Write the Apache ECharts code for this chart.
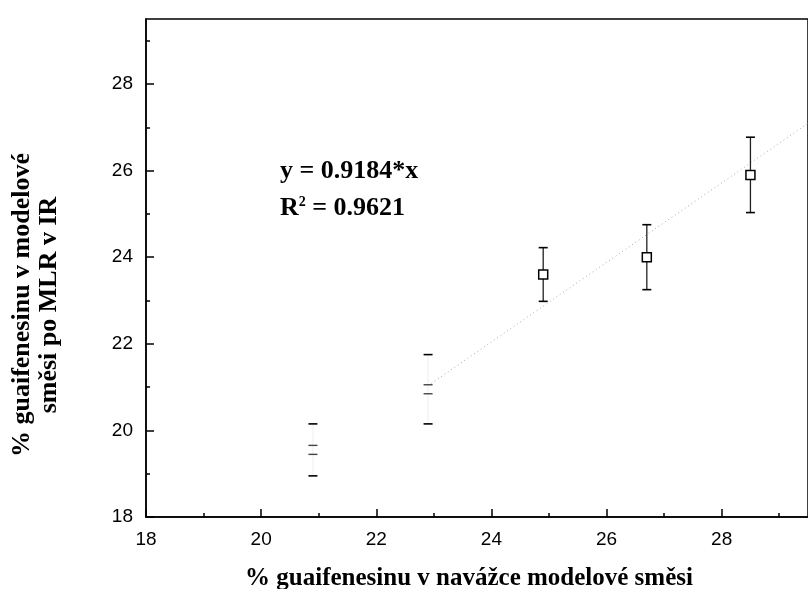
<!DOCTYPE html>
<html><head><meta charset="utf-8">
<script src="https://cdn.jsdelivr.net/npm/echarts@6/dist/echarts.min.js"></script>
<style>html,body{margin:0;padding:0;background:#fff}#c{width:808px;height:589px}</style>
</head><body><div id="c"></div>
<script>
const xVals = [20.9, 22.9, 24.9, 26.7, 28.5];
const yVals = [19.55, 20.95, 23.6, 24.0, 25.9];
const errVals = [0.6, 0.8, 0.62, 0.75, 0.87];
const xMajor = [18, 20, 22, 24, 26, 28];
const xMinor = [19, 21, 23, 25, 27, 29];
const yMajor = [18, 20, 22, 24, 26, 28];
const yMinor = [19, 21, 23, 25, 27, 29];
const slope = 0.9184;
const fitX = [22.9, 29.5];
const eqText = 'y = 0.9184*x';
const r2Text = '0.9621';
const xTitle = '% guaifenesinu v navážce modelové směsi';
const yTitle1 = '% guaifenesinu v modelové';
const yTitle2 = 'směsi po MLR v IR';

const chart = echarts.init(document.getElementById('c'), null, {renderer: 'canvas'});
const serif = '"Liberation Serif","Times New Roman",serif';
const sans = '"Liberation Sans",Arial,sans-serif';

function axisPair(kind, major, minor) {
  const base = {
    type: 'value', min: 18, max: 29.5, scale: true,
    splitLine: {show: false}
  };
  const a = Object.assign({}, base, {
    axisLine: {show: true, lineStyle: {color: '#000', width: 1.5}},
    axisTick: {show: true, inside: true, length: 8, customValues: major, lineStyle: {color: '#000', width: 1.5}},
    axisLabel: {show: true, customValues: major, color: '#000', fontFamily: sans, fontSize: 19, margin: kind === 'x' ? 13 : 13}
  });
  const b = Object.assign({}, base, {
    axisLine: {show: false},
    axisTick: {show: true, inside: true, length: 4, customValues: minor, lineStyle: {color: '#000', width: 1.5}},
    axisLabel: {show: false}
  });
  if (kind === 'x') { a.position = 'bottom'; b.position = 'bottom'; }
  else { a.position = 'left'; b.position = 'left'; }
  return [a, b];
}

const errData = xVals.map((x, i) => [x, yVals[i], errVals[i], i]);

chart.setOption({
  animation: false,
  grid: {left: 146, right: -8, top: 19, bottom: 72, show: true, borderColor: '#000', borderWidth: 1.5, backgroundColor: 'transparent'},
  xAxis: axisPair('x', xMajor, xMinor),
  yAxis: axisPair('y', yMajor, yMinor),
  series: [
    {
      type: 'line', xAxisIndex: 0, yAxisIndex: 0,
      data: fitX.map(x => [x, slope * x]),
      symbol: 'none', clip: true,
      lineStyle: {color: '#aaaaaa', width: 1, type: [1, 3]}
    },
    {
      type: 'custom', xAxisIndex: 0, yAxisIndex: 0,
      data: errData,
      renderItem: function (params, api) {
        const x = api.value(0), y = api.value(1), e = api.value(2), idx = api.value(3);
        const pc = api.coord([x, y]);
        const pt = api.coord([x, y + e]);
        const pb = api.coord([x, y - e]);
        const faded = idx < 2;
        const cw = 4.5, bs = 4.5;
        const stemColor = faded ? '#f2f2f2' : '#222';
        const children = [
          {type: 'line', shape: {x1: pc[0], y1: pt[1], x2: pc[0], y2: pb[1]}, style: {stroke: stemColor, lineWidth: 1.3}},
          {type: 'line', shape: {x1: pc[0] - cw, y1: pt[1], x2: pc[0] + cw, y2: pt[1]}, style: {stroke: '#000', lineWidth: 1.6}},
          {type: 'line', shape: {x1: pc[0] - cw, y1: pb[1], x2: pc[0] + cw, y2: pb[1]}, style: {stroke: '#000', lineWidth: 1.6}}
        ];
        if (faded) {
          children.push({type: 'line', shape: {x1: pc[0] - bs, y1: pc[1] - bs, x2: pc[0] + bs, y2: pc[1] - bs}, style: {stroke: '#444', lineWidth: 1.4}});
          children.push({type: 'line', shape: {x1: pc[0] - bs, y1: pc[1] + bs, x2: pc[0] + bs, y2: pc[1] + bs}, style: {stroke: '#444', lineWidth: 1.4}});
        } else {
          children.push({type: 'rect', shape: {x: pc[0] - bs, y: pc[1] - bs, width: 2 * bs, height: 2 * bs}, style: {fill: '#fff', stroke: '#000', lineWidth: 1.5}});
        }
        return {type: 'group', children: children};
      },
      z: 5
    }
  ],
  graphic: [
    {type: 'text', left: 280, top: 158, style: {text: eqText, font: 'bold 26px ' + serif, fill: '#000'}},
    {type: 'text', left: 280, top: 195, style: {
      text: '{a|R}{s|2}{a| = ' + r2Text + '}',
      rich: {a: {font: 'bold 26px ' + serif, fill: '#000'}, s: {font: 'bold 14px ' + serif, fill: '#000', verticalAlign: 'top', padding: [0, 0, 12, 0]}}
    }},
    {type: 'text', x: 469, y: 579, style: {text: xTitle, font: 'bold 25px ' + serif, fill: '#000', textAlign: 'center', textVerticalAlign: 'middle'}},
    {type: 'text', x: 22, y: 305, rotation: Math.PI / 2, style: {text: yTitle1, font: 'bold 26px ' + serif, fill: '#000', textAlign: 'center', textVerticalAlign: 'middle'}},
    {type: 'text', x: 49, y: 305, rotation: Math.PI / 2, style: {text: yTitle2, font: 'bold 26px ' + serif, fill: '#000', textAlign: 'center', textVerticalAlign: 'middle'}}
  ]
});
</script>
</body></html>
